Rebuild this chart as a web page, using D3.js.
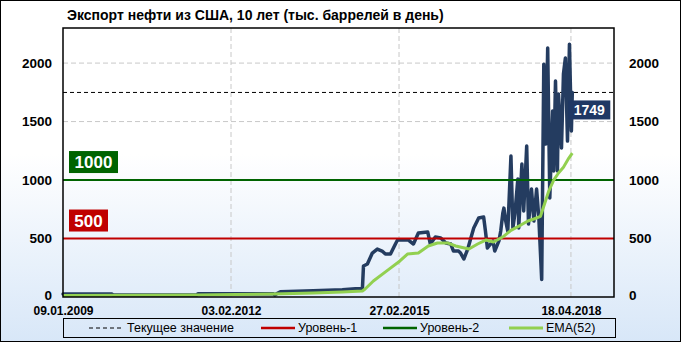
<!DOCTYPE html>
<html>
<head>
<meta charset="utf-8">
<script src="https://cdn.jsdelivr.net/npm/d3@7"></script>
<style>
body { margin: 0; }
svg text { font-family: "Liberation Sans", Arial, sans-serif; }
</style>
</head>
<body>
<svg id="chart" width="681" height="342"></svg>
<script>
// weekly export (thousand barrels per day)
var exportDates = ["2009-01-09","2009-12-02","2009-12-10","2011-06-21","2011-06-28","2012-11-10","2012-11-20","2012-12-28",
  "2013-08-04","2014-02-14","2014-05-12","2014-06-28","2014-07-05","2014-07-31","2014-09-02","2014-10-05","2014-11-06",
  "2014-11-28","2015-01-01","2015-02-03","2015-02-17","2015-03-22","2015-05-01","2015-06-03","2015-07-06","2015-09-06",
  "2015-09-24","2015-10-27","2015-12-02","2016-01-05","2016-02-07","2016-02-25","2016-03-29","2016-04-12","2016-05-04",
  "2016-05-30","2016-07-09","2016-08-11","2016-09-13","2016-09-25","2016-10-08","2016-11-14","2016-11-26","2016-12-24",
  "2017-01-05","2017-01-19","2017-01-26","2017-02-07","2017-02-21","2017-03-14","2017-03-27","2017-04-09","2017-04-29",
  "2017-05-05","2017-05-26","2017-06-07","2017-06-27","2017-07-09","2017-07-29","2017-08-14","2017-09-01","2017-09-16",
  "2017-10-05","2017-10-19","2017-11-02","2017-11-14","2017-11-28","2017-12-17","2017-12-24","2018-01-05","2018-01-18",
  "2018-01-25","2018-02-14","2018-02-27","2018-03-12","2018-03-26","2018-04-08","2018-04-21","2018-04-27"];
var exportVals = [25,25,17,17,28,28,18,45,
  54,62,70,72,265,282,376,410,393,
  367,367,453,487,487,487,453,547,556,
  453,513,505,462,453,393,393,376,325,
  410,590,675,684,564,419,479,393,480,
  564,718,760,650,564,1205,590,709,1008,
  590,1137,735,1291,624,923,650,923,675,
  150,1991,1308,2128,846,1590,1077,1846,1077,
  1735,1274,1906,2043,1333,2162,1419,1749];

// EMA(52) line
var emaDates = ["2009-01-09","2011-06-21","2012-11-10","2013-08-04","2014-02-14","2014-06-28","2014-07-16","2014-09-09",
  "2014-12-14","2015-03-05","2015-04-24","2015-07-06","2015-09-10","2015-11-10","2016-01-16","2016-03-11","2016-06-07",
  "2016-08-04","2016-09-27","2016-11-18","2017-01-26","2017-03-14","2017-05-19","2017-07-05","2017-08-14","2017-09-27",
  "2017-10-26","2017-11-21","2017-12-24","2018-01-25","2018-02-27","2018-04-04","2018-04-27"];
var emaVals = [13,17,26,34,43,51,68,137,
  230,308,367,376,436,462,462,436,410,
  453,487,470,520,570,615,650,667,690,
  803,906,1000,1060,1110,1188,1231];

var levels = [500, 1000];
var levelColors = ["#c00000", "#006400"];
var currentValue = 1749;
var yTicks = [0, 500, 1000, 1500, 2000];
var xTickDates = ["2009-01-09","2012-02-03","2015-02-27","2018-04-18"];
var legendNames = ["Текущее значение", "Уровень-1", "Уровень-2", "EMA(52)"];
var title = "Экспорт нефти из США, 10 лет (тыс. баррелей в день)";

var W = 681, H = 342;
var margin = {left: 63, right: 67, top: 28, bottom: 45};
var parse = d3.timeParse("%Y-%m-%d");
var fmt = d3.timeFormat("%d.%m.%Y");

var svg = d3.select("#chart");
var defs = svg.append("defs");
var grad = defs.append("linearGradient").attr("id", "bg")
    .attr("x1", 0).attr("y1", 0).attr("x2", 0).attr("y2", 1);
grad.append("stop").attr("offset", "0%").attr("stop-color", "#ffffff");
grad.append("stop").attr("offset", "45%").attr("stop-color", "#ffffff");
grad.append("stop").attr("offset", "100%").attr("stop-color", "#d8e7f8");

svg.append("rect").attr("x", 0.5).attr("y", 0.5).attr("width", W - 1).attr("height", H - 1)
    .attr("fill", "url(#bg)").attr("stroke", "#000");

var x = d3.scaleTime()
    .domain([parse("2009-01-09"), parse("2019-01-30")])
    .range([margin.left, W - margin.right]);
var y = d3.scaleLinear().domain([0, 2300]).range([H - margin.bottom, margin.top]);

var series = exportDates.map(function(d, i) { return {date: parse(d), v: exportVals[i]}; });
var ema = emaDates.map(function(d, i) { return {date: parse(d), v: emaVals[i]}; });

// title
svg.append("text").attr("x", 67).attr("y", 20)
    .attr("font-size", "14px").attr("font-weight", "bold").attr("fill", "#000")
    .text(title);

// grid
var grid = svg.append("g");
grid.selectAll(".hg").data(yTicks.slice(1)).enter().append("line")
    .attr("x1", margin.left).attr("x2", W - margin.right)
    .attr("y1", function(d) { return y(d); }).attr("y2", function(d) { return y(d); })
    .attr("stroke", "#c8c8c8").attr("stroke-dasharray", "5,3");
grid.selectAll(".vg").data(xTickDates.slice(1)).enter().append("line")
    .attr("x1", function(d) { return x(parse(d)); }).attr("x2", function(d) { return x(parse(d)); })
    .attr("y1", margin.top).attr("y2", H - margin.bottom)
    .attr("stroke", "#c8c8c8").attr("stroke-dasharray", "5,3");

// current value line
svg.append("line")
    .attr("x1", margin.left).attr("x2", W - margin.right)
    .attr("y1", y(currentValue)).attr("y2", y(currentValue))
    .attr("stroke", "#000").attr("stroke-dasharray", "4,3");

var line = d3.line().x(function(d) { return x(d.date); }).y(function(d) { return y(d.v); });

svg.append("path").datum(series)
    .attr("d", line).attr("fill", "none")
    .attr("stroke", "#243c60").attr("stroke-width", 3.5)
    .attr("stroke-linejoin", "round").attr("stroke-linecap", "round");

// levels
svg.selectAll(".lvl").data(levels).enter().append("line")
    .attr("x1", margin.left).attr("x2", W - margin.right)
    .attr("y1", function(d) { return y(d); }).attr("y2", function(d) { return y(d); })
    .attr("stroke", function(d, i) { return levelColors[i]; }).attr("stroke-width", 2);

svg.append("path").datum(ema)
    .attr("d", line).attr("fill", "none")
    .attr("stroke", "#92d050").attr("stroke-width", 3)
    .attr("stroke-linejoin", "round");

// plot frame
svg.append("rect").attr("x", margin.left).attr("y", margin.top)
    .attr("width", W - margin.left - margin.right).attr("height", H - margin.top - margin.bottom)
    .attr("fill", "none").attr("stroke", "#000").attr("stroke-width", 1.5);

// axes
var yl = d3.axisLeft(y).tickValues(yTicks).tickFormat(d3.format("d")).tickSize(0).tickPadding(11);
var yr = d3.axisRight(y).tickValues(yTicks).tickFormat(d3.format("d")).tickSize(0).tickPadding(15);
var xb = d3.axisBottom(x).tickValues(xTickDates.map(parse)).tickFormat(fmt).tickSize(0).tickPadding(9);

var gl = svg.append("g").attr("transform", "translate(" + margin.left + ",0)").call(yl);
var gr = svg.append("g").attr("transform", "translate(" + (W - margin.right) + ",0)").call(yr);
var gb = svg.append("g").attr("transform", "translate(0," + (H - margin.bottom) + ")").call(xb);
[gl, gr, gb].forEach(function(g) {
    g.select(".domain").remove();
    g.selectAll("text").attr("font-family", "Liberation Sans, Arial, sans-serif")
        .attr("font-weight", "bold").attr("fill", "#000")
        .attr("font-size", g === gb ? "12px" : "13.5px");
});
// keep the bottom "0" clear of the first date label
gl.selectAll("text").filter(function(d) { return d === 0; }).attr("dy", "0.2em");
gr.selectAll("text").filter(function(d) { return d === 0; }).attr("dy", "0.2em");

// level badges
var badgeW = [39, 49];
levels.forEach(function(v, i) {
    var by = y(v) - 29;
    svg.append("rect").attr("x", margin.left + 6).attr("y", by)
        .attr("width", badgeW[i]).attr("height", 22).attr("fill", levelColors[i]);
    svg.append("text").attr("x", margin.left + 6 + badgeW[i] / 2).attr("y", by + 17)
        .attr("text-anchor", "middle").attr("fill", "#fff")
        .attr("font-size", "17px").attr("font-weight", "bold").text(v);
});

// current value badge
var last = series[series.length - 1];
var cx = x(last.date) - 4, cy = y(currentValue) + 8;
svg.append("rect").attr("x", cx).attr("y", cy).attr("width", 42).attr("height", 19).attr("fill", "#1f3864");
svg.append("text").attr("x", cx + 21).attr("y", cy + 14.5).attr("text-anchor", "middle")
    .attr("fill", "#fff").attr("font-size", "14px").attr("font-weight", "bold").text(currentValue);

// legend
var lg = svg.append("g");
lg.append("rect").attr("x", 63.5).attr("y", 318.5).attr("width", 552).attr("height", 19)
    .attr("fill", "none").attr("stroke", "#000");
var legX = [89, 261, 383, 509];
var legStyle = [
    {c: "#000", w: 1, dash: "4,3"},
    {c: levelColors[0], w: 2.5, dash: null},
    {c: levelColors[1], w: 2.5, dash: null},
    {c: "#92d050", w: 3, dash: null}
];
legendNames.forEach(function(n, i) {
    lg.append("line").attr("x1", legX[i]).attr("x2", legX[i] + 34)
        .attr("y1", 328).attr("y2", 328)
        .attr("stroke", legStyle[i].c).attr("stroke-width", legStyle[i].w)
        .attr("stroke-dasharray", legStyle[i].dash);
    lg.append("text").attr("x", legX[i] + (i == 0 ? 38 : 37)).attr("y", 332)
        .attr("font-size", "12.5px").attr("fill", "#000").text(n);
});
</script>
</body>
</html>
